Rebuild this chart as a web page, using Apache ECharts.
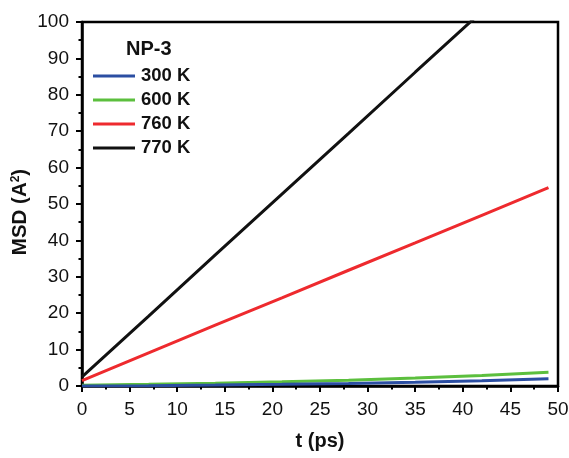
<!DOCTYPE html>
<html>
<head>
<meta charset="utf-8">
<script src="https://cdn.jsdelivr.net/npm/echarts@6/dist/echarts.min.js"></script>
<style>
  html, body { margin: 0; padding: 0; background: #fff; }
  #chart { width: 569px; height: 458px; }
</style>
</head>
<body>
<div id="chart"></div>
<script>
// time points (ps)
const timePs = [0, 7, 14, 21, 28, 35, 42, 49];
// MSD values
const msd300 = [0.0, 0.1, 0.25, 0.45, 0.7, 1.0, 1.45, 2.0];
const msd600 = [0.2, 0.45, 0.75, 1.15, 1.6, 2.2, 2.9, 3.8];
const msd760 = [1.5, 9.1, 16.7, 24.2, 31.8, 39.3, 46.9, 54.5];
const msd770 = [2.5, 19.2, 36.0, 52.7, 69.4, 86.2, 102.9, 119.6];
const seriesNames = ["300 K", "600 K", "760 K", "770 K"];
const seriesColors = ["#2b4ea2", "#5cbf3e", "#ee2a2e", "#111111"];
const yTicks = [0, 10, 20, 30, 40, 50, 60, 70, 80, 90, 100];
const xTicks = [0, 5, 10, 15, 20, 25, 30, 35, 40, 45, 50];

const chart = echarts.init(document.getElementById("chart"));
const font = "'Liberation Sans', Arial, sans-serif";

const allData = [msd300, msd600, msd760, msd770];

chart.setOption({
  animation: false,
  backgroundColor: "#fff",
  textStyle: { fontFamily: font },
  title: {
    text: "NP-3",
    left: 126,
    top: 39,
    padding: 0,
    textStyle: { fontFamily: font, fontSize: 20, fontWeight: "bold", color: "#111" }
  },
  legend: {
    orient: "vertical",
    left: 93,
    top: 66,
    padding: 0,
    itemWidth: 42,
    itemHeight: 3,
    itemGap: 4,
    icon: "rect",
    data: seriesNames,
    textStyle: { fontFamily: font, fontSize: 18.5, lineHeight: 20, fontWeight: "bold", color: "#111", padding: [0, 0, 0, 1] }
  },
  grid: {
    left: 82,
    right: 11,
    top: 22,
    bottom: 72,
    outerBoundsMode: "none",
    containLabel: false,
    show: true,
    borderColor: "#000",
    borderWidth: 2.5
  },
  xAxis: {
    type: "value",
    min: xTicks[0],
    max: xTicks[xTicks.length - 1],
    interval: 5,
    name: "t (ps)",
    nameLocation: "middle",
    nameGap: 45,
    nameMoveOverlap: false,
    nameTextStyle: { fontFamily: font, fontSize: 20, fontWeight: "bold", color: "#111" },
    axisLine: { show: true, lineStyle: { color: "#000", width: 2.5 } },
    axisTick: { show: true, inside: false, length: 6, lineStyle: { color: "#000", width: 2 } },
    minorTick: { show: true, splitNumber: 2, length: 3.5, lineStyle: { color: "#000", width: 2 } },
    axisLabel: { fontFamily: font, fontSize: 19, color: "#111", margin: 14 },
    splitLine: { show: false }
  },
  yAxis: {
    type: "value",
    min: yTicks[0],
    max: yTicks[yTicks.length - 1],
    interval: 10,
    name: "MSD (A{sup|2})",
    nameLocation: "middle",
    nameGap: 51,
    nameMoveOverlap: false,
    nameTextStyle: {
      fontFamily: font, fontSize: 20.5, fontWeight: "bold", color: "#111", padding: [0, 16, 0, 0],
      rich: { sup: { fontFamily: font, fontSize: 12, fontWeight: "bold", color: "#111", verticalAlign: "top", padding: [0, 0, 9, 0] } }
    },
    axisLine: { show: true, lineStyle: { color: "#000", width: 2.5 } },
    axisTick: { show: true, inside: false, length: 6, lineStyle: { color: "#000", width: 2 } },
    minorTick: { show: true, splitNumber: 2, length: 3.5, lineStyle: { color: "#000", width: 2 } },
    axisLabel: { fontFamily: font, fontSize: 19, color: "#111", margin: 13 },
    splitLine: { show: false }
  },
  series: seriesNames.map((name, i) => ({
    name: name,
    type: "line",
    data: timePs.map((t, j) => [t, allData[i][j]]),
    symbol: "none",
    clip: true,
    color: seriesColors[i],
    lineStyle: { color: seriesColors[i], width: 3 },
    z: 10 - i
  }))
});
</script>
</body>
</html>
